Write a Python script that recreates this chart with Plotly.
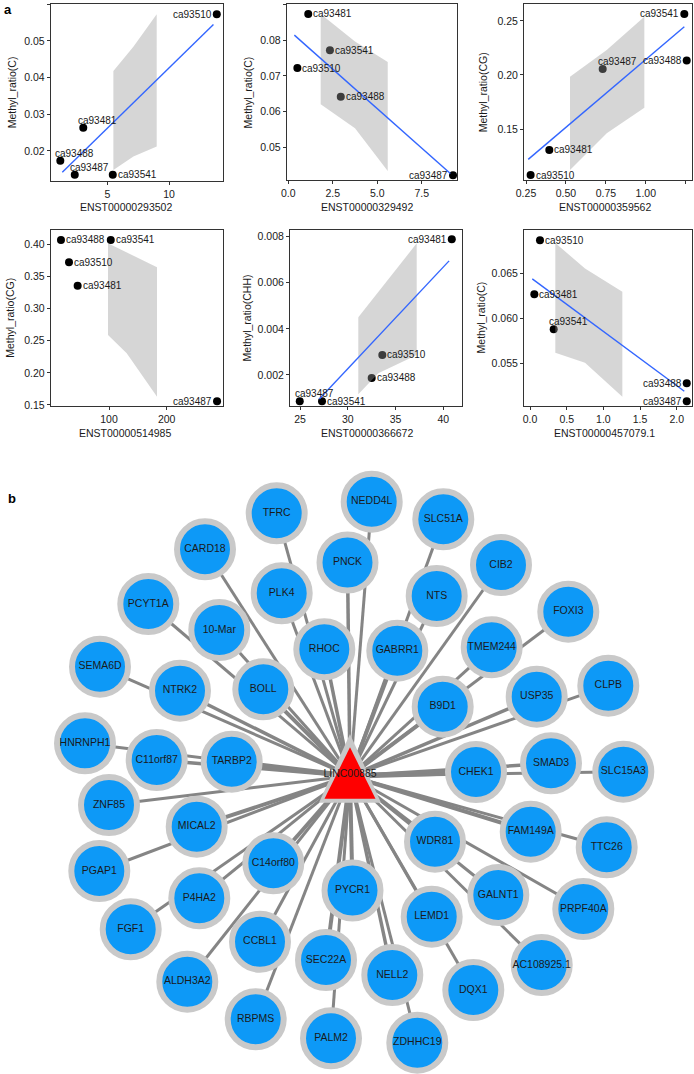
import plotly.graph_objects as go

W, H = 694, 1074
FONT = "Liberation Sans, Arial, Helvetica, sans-serif"

# ---------------- panel a : data ----------------
samples = ["ca93481", "ca93487", "ca93488", "ca93510", "ca93541"]

p1_x = [3.05, 2.36, 1.19, 13.87, 5.44]
p1_y = [0.0263, 0.0135, 0.0173, 0.0573, 0.0135]
p1_fit_x = [1.35, 13.6]
p1_fit_y = [0.0142, 0.0545]
p1_band_x = [5.49, 7.11, 9.0]
p1_band_lo = [0.0148, 0.01845, 0.0212]
p1_band_hi = [0.0418, 0.0484, 0.0573]

p2_x = [1.12, 9.26, 2.95, 0.51, 2.34]
p2_y = [0.0873, 0.0423, 0.0642, 0.0722, 0.0772]
p2_fit_x = [0.34, 9.11]
p2_fit_y = [0.0814, 0.0428]
p2_band_x = [1.82, 3.75, 5.59]
p2_band_lo = [0.0621, 0.0554, 0.0435]
p2_band_hi = [0.0873, 0.0796, 0.0739]

p3_x = [0.396, 0.730, 1.256, 0.279, 1.241]
p3_y = [0.1306, 0.2056, 0.2133, 0.1074, 0.2565]
p3_fit_x = [0.264, 1.241]
p3_fit_y = [0.1219, 0.2447]
p3_band_x = [0.5255, 0.7553, 0.9908]
p3_band_lo = [0.112, 0.146, 0.1697]
p3_band_hi = [0.1984, 0.2231, 0.2540]

p4_x = [45.7, 287.2, 16.8, 30.7, 103.1]
p4_y = [0.3356, 0.1558, 0.4067, 0.372, 0.4067]
p4_fit_x = []
p4_fit_y = []
p4_band_x = [98.3, 130.7, 183.2]
p4_band_lo = [0.2589, 0.2304, 0.1629]
p4_band_hi = [0.4016, 0.3873, 0.3642]

p5_x = [40.88, 24.97, 32.50, 33.61, 27.30]
p5_y = [0.00789, 0.000859, 0.00187, 0.00287, 0.000859]
p5_fit_x = [27.02, 40.6]
p5_fit_y = [0.00096, 0.00695]
p5_band_x = [31.10, 33.19, 37.21]
p5_band_lo = [0.00116, 0.00207, 0.00287]
p5_band_hi = [0.0045, 0.0056, 0.00771]

p6_x = [0.059, 2.137, 2.137, 0.136, 0.323]
p6_y = [0.0627, 0.0508, 0.0528, 0.0687, 0.0588]
p6_fit_x = [0.031, 2.104]
p6_fit_y = [0.0644, 0.0519]
p6_band_x = [0.345, 0.75, 1.259]
p6_band_lo = [0.05618, 0.05507, 0.0513]
p6_band_hi = [0.0684, 0.06556, 0.06296]

x_titles = ["ENST00000293502", "ENST00000329492", "ENST00000359562",
            "ENST00000514985", "ENST00000366672", "ENST00000457079.1"]
y_titles = ["Methyl_ratio(C)", "Methyl_ratio(C)", "Methyl_ratio(CG)",
            "Methyl_ratio(CG)", "Methyl_ratio(CHH)", "Methyl_ratio(C)"]
x_tickvals = [[5, 10], [0.0, 2.5, 5.0, 7.5], [0.25, 0.5, 0.75, 1.0, 1.25],
              [100, 200], [25, 30, 35, 40], [0.0, 0.5, 1.0, 1.5, 2.0]]
y_tickvals = [[0.02, 0.03, 0.04, 0.05, 0.06], [0.05, 0.06, 0.07, 0.08, 0.09],
              [0.15, 0.20, 0.25], [0.15, 0.20, 0.25, 0.30, 0.35, 0.40],
              [0.002, 0.004, 0.006, 0.008], [0.055, 0.060, 0.065]]

# ---------------- panel b : network data ----------------
hub_name = "LINC00885"
hub_x, hub_y = 350, 776
node_names = ["TFRC", "NEDD4L", "SLC51A", "CARD18", "PNCK", "CIB2", "PLK4", "NTS",
              "FOXI3", "PCYT1A", "10-Mar", "RHOC", "GABRR1", "TMEM244", "SEMA6D",
              "NTRK2", "BOLL", "B9D1", "USP35", "CLPB", "HNRNPH1", "C11orf87",
              "TARBP2", "CHEK1", "SMAD3", "SLC15A3", "ZNF85", "MICAL2", "PGAP1",
              "C14orf80", "P4HA2", "FGF1", "CCBL1", "ALDH3A2", "RBPMS", "SEC22A",
              "PALM2", "PYCR1", "WDR81", "FAM149A", "TTC26", "GALNT1", "PRPF40A",
              "LEMD1", "AC108925.1", "NELL2", "DQX1", "ZDHHC19"]
node_x = [276.7, 371.7, 443.3, 205, 347.5, 501, 281.7, 436.7,
          568.3, 148.3, 219.3, 324.3, 397.3, 491.7, 100,
          180, 263.3, 442.7, 536.7, 608.3, 85, 156.7,
          231.7, 476, 551, 623.3, 109, 196.7, 99.3,
          273.3, 199.3, 130.7, 260, 187.3, 255.7, 326,
          331, 352.5, 435, 530.7, 606.7, 498.3, 583.3,
          431.7, 541.7, 392.3, 473.3, 417.3]
node_y = [513.3, 501.7, 519.3, 549.3, 562.5, 565, 593.3, 596,
          611.7, 604, 630, 649.3, 650.7, 647.3, 666.7,
          690.7, 689.3, 706.7, 696.7, 685.7, 743.3, 760,
          761.7, 772, 763.3, 771.7, 805, 826.7, 871,
          863.3, 898.3, 929.3, 941.7, 981.7, 1019.3, 960,
          1038.3, 890.5, 841.7, 831.7, 847.3, 895, 909,
          916.7, 965, 975, 990, 1042.7]
edge_width = [3, 3, 3, 3, 3.5, 3, 3, 3,
              3, 3, 3, 3.5, 4, 3, 3,
              3.5, 4, 4, 3.5, 3, 3, 3.5,
              5, 5.5, 3.5, 3, 3, 4, 3,
              4, 3, 3, 3, 3, 3, 4,
              3, 4, 4, 4, 3, 3, 3,
              3, 3, 3.5, 3, 3]

# ---------------- helpers ----------------
def px2paper_x(p):
    return p / W

def px2paper_y(p):
    return 1 - p / H

panels = [
    dict(x=p1_x, y=p1_y, fx=p1_fit_x, fy=p1_fit_y, bx=p1_band_x, blo=p1_band_lo, bhi=p1_band_hi,
         lab=["u", "u", "u", "l", "r"], xr=[0.41, 14.35], yr=[0.0118, 0.06],
         dom=[50.7, 222.7, 4.3, 181], xfmt="d", yfmt=".2f", ytx=11.7, xtx=126.3, xty=207),
    dict(x=p2_x, y=p2_y, fx=p2_fit_x, fy=p2_fit_y, bx=p2_band_x, blo=p2_band_lo, bhi=p2_band_hi,
         lab=["r", "l", "r", "r", "r"], xr=[-0.09, 9.5], yr=[0.04097, 0.09],
         dom=[286.7, 457.3, 4.3, 180], xfmt=".1f", yfmt=".2f", ytx=248.3, xtx=367.2, xty=207),
    dict(x=p3_x, y=p3_y, fx=p3_fit_x, fy=p3_fit_y, bx=p3_band_x, blo=p3_band_lo, bhi=p3_band_hi,
         lab=["r", "u", "l", "r", "l"], xr=[0.2375, 1.291], yr=[0.1028, 0.2657],
         dom=[524, 692.3, 4, 180], xfmt=".2f", yfmt=".2f", ytx=483.3, xtx=604.5, xty=207),
    dict(x=p4_x, y=p4_y, fx=p4_fit_x, fy=p4_fit_y, bx=p4_band_x, blo=p4_band_lo, bhi=p4_band_hi,
         lab=["r", "l", "r", "r", "r"], xr=[-1.0, 297], yr=[0.1484, 0.423],
         dom=[50.7, 222.7, 229.5, 406], xfmt="d", yfmt=".2f", ytx=10, xtx=125, xty=433),
    dict(x=p5_x, y=p5_y, fx=p5_fit_x, fy=p5_fit_y, bx=p5_band_x, blo=p5_band_lo, bhi=p5_band_hi,
         lab=["l", "u", "r", "r", "r"], xr=[23.95, 41.95], yr=[0.000655, 0.00831],
         dom=[290, 462, 229.5, 406], xfmt="d", yfmt=".3f", ytx=246.7, xtx=366.7, xty=433),
    dict(x=p6_x, y=p6_y, fx=p6_fit_x, fy=p6_fit_y, bx=p6_band_x, blo=p6_band_lo, bhi=p6_band_hi,
         lab=["r", "l", "l", "r", "u"], xr=[-0.082, 2.213], yr=[0.05026, 0.0699],
         dom=[524, 692.3, 229.5, 406], xfmt=".1f", yfmt=".3f", ytx=480.7, xtx=604, xty=433),
]

fig = go.Figure()
annotations = []
TXT = "#1a1a1a"
AX = "#333333"

for i, P in enumerate(panels, start=1):
    sfx = "" if i == 1 else str(i)
    xa, ya = "x" + sfx, "y" + sfx
    # points
    fig.add_trace(go.Scatter(x=P["x"], y=P["y"], mode="markers", xaxis=xa, yaxis=ya,
                             marker=dict(color="black", size=8, line=dict(width=0)),
                             showlegend=False, hoverinfo="skip", cliponaxis=False))
    # confidence band (drawn over the points, semi-transparent)
    bx = list(P["bx"])
    fig.add_trace(go.Scatter(x=bx + bx[::-1], y=list(P["bhi"]) + list(P["blo"])[::-1],
                             fill="toself", fillcolor="rgba(153,153,153,0.4)",
                             mode="lines", line=dict(width=0, color="rgba(0,0,0,0)"),
                             xaxis=xa, yaxis=ya, showlegend=False, hoverinfo="skip"))
    # fitted line
    if len(P["fx"]):
        fig.add_trace(go.Scatter(x=P["fx"], y=P["fy"], mode="lines", xaxis=xa, yaxis=ya,
                                 line=dict(color="#3366FF", width=1.4),
                                 showlegend=False, hoverinfo="skip"))
    x0, x1, y0, y1 = P["dom"]
    axis_common = dict(showline=True, mirror=True, linecolor=AX, linewidth=1,
                       ticks="outside", ticklen=3, tickcolor=AX, tickwidth=1,
                       showgrid=False, zeroline=False, fixedrange=True, automargin=False,
                       tickfont=dict(family=FONT, size=10.5, color=TXT))
    fig.layout["xaxis" + sfx] = dict(domain=[px2paper_x(x0), px2paper_x(x1)], range=P["xr"],
                                     anchor=ya, tickvals=x_tickvals[i - 1],
                                     tickformat=P["xfmt"], **axis_common)
    fig.layout["yaxis" + sfx] = dict(domain=[px2paper_y(y1), px2paper_y(y0)], range=P["yr"],
                                     anchor=xa, tickvals=y_tickvals[i - 1],
                                     tickformat=P["yfmt"], **axis_common)
    # axis titles
    annotations.append(dict(text=x_titles[i - 1], x=px2paper_x(P["xtx"]), y=px2paper_y(P["xty"]),
                            xref="paper", yref="paper", showarrow=False,
                            xanchor="center", yanchor="middle",
                            font=dict(family=FONT, size=10.5, color=TXT)))
    annotations.append(dict(text=y_titles[i - 1], x=px2paper_x(P["ytx"]),
                            y=px2paper_y((y0 + y1) / 2), xref="paper", yref="paper",
                            showarrow=False, textangle=-90, xanchor="center", yanchor="middle",
                            font=dict(family=FONT, size=10.5, color=TXT)))
    # point labels
    for xv, yv, name, pos in zip(P["x"], P["y"], samples, P["lab"]):
        a = dict(text=name, x=xv, y=yv, xref=xa, yref=ya, showarrow=False,
                 font=dict(family=FONT, size=10, color=TXT), borderpad=0)
        if pos == "r":
            a.update(xanchor="left", yanchor="middle", xshift=4)
        elif pos == "l":
            a.update(xanchor="right", yanchor="middle", xshift=-4)
        else:
            a.update(xanchor="left", yanchor="bottom", xshift=-6, yshift=1)
        annotations.append(a)

# ---------------- network ----------------
NX, NY = "x7", "y7"
for nx, ny, w in zip(node_x, node_y, edge_width):
    fig.add_trace(go.Scatter(x=[hub_x, nx], y=[hub_y, ny], mode="lines", xaxis=NX, yaxis=NY,
                             line=dict(color="#858585", width=w),
                             showlegend=False, hoverinfo="skip", cliponaxis=False))

# hub triangle (gray border + red fill), sized around the hub position
tri_outer = dict(up=42, down=26.7, half=31)
tri_inner = dict(up=28.7, down=22.7, half=25.5)
for t, col in ((tri_outer, "#C8C8C8"), (tri_inner, "#FF0000")):
    fig.add_trace(go.Scatter(
        x=[hub_x, hub_x + t["half"], hub_x - t["half"], hub_x],
        y=[hub_y - t["up"], hub_y + t["down"], hub_y + t["down"], hub_y - t["up"]],
        fill="toself", fillcolor=col, mode="lines", line=dict(width=0, color=col),
        xaxis=NX, yaxis=NY, showlegend=False, hoverinfo="skip"))

fig.add_trace(go.Scatter(x=node_x, y=node_y, mode="markers+text", text=node_names,
                         textposition="middle center", xaxis=NX, yaxis=NY,
                         marker=dict(size=56, color="#0D99F7", line=dict(color="#C9C9C9", width=6)),
                         textfont=dict(family=FONT, size=10.5, color=TXT),
                         showlegend=False, hoverinfo="skip", cliponaxis=False))
fig.add_trace(go.Scatter(x=[hub_x], y=[hub_y - 2], mode="text", text=[hub_name],
                         textposition="middle center", xaxis=NX, yaxis=NY,
                         textfont=dict(family=FONT, size=10.5, color=TXT),
                         showlegend=False, hoverinfo="skip", cliponaxis=False))

fig.layout["xaxis7"] = dict(domain=[0, 1], range=[0, W], visible=False, fixedrange=True,
                            anchor="y7", automargin=False)
fig.layout["yaxis7"] = dict(domain=[0, px2paper_y(455)], range=[H, 455], visible=False,
                            fixedrange=True, anchor="x7", automargin=False)

# panel letters
annotations.append(dict(text="<b>a</b>", x=px2paper_x(2), y=px2paper_y(0), xref="paper", yref="paper",
                        showarrow=False, xanchor="left", yanchor="top",
                        font=dict(family=FONT, size=13, color="black")))
annotations.append(dict(text="<b>b</b>", x=px2paper_x(6), y=px2paper_y(489), xref="paper", yref="paper",
                        showarrow=False, xanchor="left", yanchor="top",
                        font=dict(family=FONT, size=13, color="black")))

fig.update_layout(template="none", width=W, height=H, margin=dict(l=0, r=0, t=0, b=0, autoexpand=False),
                  paper_bgcolor="white", plot_bgcolor="white",
                  annotations=annotations, showlegend=False,
                  font=dict(family=FONT))
fig.write_html("out.html", config={"displayModeBar": False},
               post_script="document.body.style.margin='0';document.body.style.overflow='hidden';")
